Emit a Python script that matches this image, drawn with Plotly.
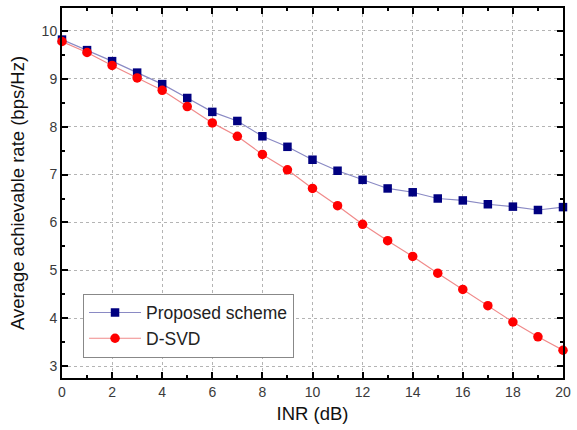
import plotly.graph_objects as go

inr_db = list(range(0, 21))
proposed = [9.82, 9.60, 9.37, 9.13, 8.89, 8.60, 8.31, 8.12, 7.80, 7.58, 7.31,
            7.08, 6.89, 6.71, 6.63, 6.50, 6.46, 6.38, 6.33, 6.26, 6.32]
dsvd = [9.78, 9.55, 9.28, 9.02, 8.76, 8.42, 8.08, 7.80, 7.42, 7.10, 6.71,
        6.35, 5.96, 5.62, 5.29, 4.94, 4.60, 4.26, 3.92, 3.61, 3.33]
x_ticks = [0, 2, 4, 6, 8, 10, 12, 14, 16, 18, 20]
y_ticks = [3, 4, 5, 6, 7, 8, 9, 10]

FONT = "Arial, Liberation Sans, sans-serif"

fig = go.Figure()
fig.add_trace(go.Scatter(
    x=inr_db, y=proposed, name="Proposed scheme", mode="lines+markers",
    line=dict(color="#8a8ac4", width=1.2),
    marker=dict(symbol="square", size=8.5, color="#000080"),
    cliponaxis=False))
fig.add_trace(go.Scatter(
    x=inr_db, y=dsvd, name="D-SVD", mode="lines+markers",
    line=dict(color="#f08a8a", width=1.2),
    marker=dict(symbol="circle", size=9.5, color="#ff0000"),
    cliponaxis=False))

axis_common = dict(
    showline=True, linecolor="black", linewidth=2, mirror="allticks",
    ticks="inside", ticklen=6, tickwidth=2, tickcolor="black",
    showgrid=True, gridcolor="#b4b4b4", griddash="dot", gridwidth=1,
    zeroline=False,
    tickfont=dict(family=FONT, size=14, color="#3a3a3a"),
    title_font=dict(family=FONT, size=18.5, color="#111"),
)

fig.update_xaxes(
    range=[0, 20], tickvals=x_ticks, ticktext=[str(v) for v in x_ticks],
    title_text="INR (dB)", title_standoff=8,
    minor=dict(dtick=1, tick0=0, ticks="inside", ticklen=3, tickwidth=1.5,
               tickcolor="black", showgrid=False),
    **axis_common)
fig.update_yaxes(
    range=[2.75, 10.48], tickvals=y_ticks, ticktext=[str(v) for v in y_ticks],
    title_text="Average achievable rate (bps/Hz)", title_standoff=12,
    minor=dict(dtick=0.5, tick0=0, ticks="inside", ticklen=3, tickwidth=1.5,
               tickcolor="black", showgrid=False),
    **axis_common)

fig.update_layout(
    width=577, height=430,
    margin=dict(l=62, r=10, t=6, b=52),
    plot_bgcolor="white", paper_bgcolor="white",
    font=dict(family=FONT, color="#222"),
    legend=dict(x=0.042, y=0.228, xanchor="left", yanchor="top",
                bgcolor="white", bordercolor="#888", borderwidth=1,
                font=dict(family=FONT, size=17.5, color="#222"),
                tracegroupgap=0, itemwidth=52),
    showlegend=True,
)

fig.write_html("out.html", config={"displayModeBar": False},
               post_script="document.body.style.margin='0';document.body.style.overflow='hidden';")
